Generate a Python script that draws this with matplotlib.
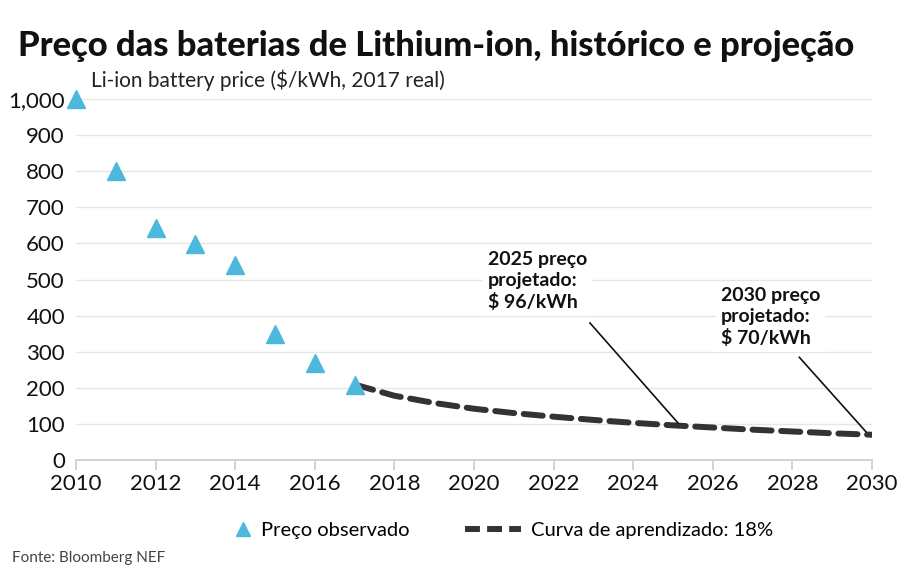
import matplotlib.pyplot as plt
from matplotlib.lines import Line2D

# Observed prices ($/kWh, 2017 real)
obs_years = [2010, 2011, 2012, 2013, 2014, 2015, 2016, 2017]
obs_price = [1000, 800, 642, 599, 540, 350, 270, 209]

# Learning curve projection (18%)
proj_years = [2017, 2018, 2019, 2020, 2021, 2022, 2023, 2024, 2025, 2026, 2027, 2028, 2029, 2030]
proj_price = [209, 178, 158, 142, 130, 120, 111, 103, 96, 90, 84, 79, 74, 70]

yticks = [0, 100, 200, 300, 400, 500, 600, 700, 800, 900, 1000]
ytick_labels = ['0', '100', '200', '300', '400', '500', '600', '700', '800', '900', '1,000']
xticks = list(range(2010, 2031, 2))

plt.rcParams['font.family'] = ['Lato', 'DejaVu Sans']

fig = plt.figure(figsize=(9.07, 5.75), dpi=100)
ax = fig.add_axes([0.0838, 0.2, 0.8776, 0.6278])

blue = '#4bb8dc'
dark = '#333333'

ax.plot(obs_years, obs_price, linestyle='None', marker='^', markersize=13,
        color=blue, clip_on=False, zorder=4)
ax.plot(proj_years, proj_price, linestyle=(0, (3.2, 1.6)), linewidth=4.3,
        color=dark, zorder=3, dash_capstyle='round')

ax.set_xlim(2010, 2030)
ax.set_ylim(0, 1000)
ax.set_yticks(yticks)
ax.set_yticklabels(ytick_labels)
ax.set_xticks(xticks)

for s in ['top', 'right', 'left']:
    ax.spines[s].set_visible(False)
ax.spines['bottom'].set_color('#cccccc')
ax.spines['bottom'].set_linewidth(1.2)
ax.tick_params(axis='y', length=0, labelsize=16, pad=8, labelcolor='#111111')
ax.tick_params(axis='x', direction='out', length=7, color='#cccccc', width=1.2,
               labelsize=16, pad=3, labelcolor='#111111')
ax.yaxis.grid(True, color='#e6e6e6', linewidth=1)
ax.set_axisbelow(True)

# annotation texts
box = dict(boxstyle='square,pad=0.25', fc='white', ec='none')
ax.text(2020.35, 580, '2025 preço\nprojetado:\n$ 96/kWh', fontsize=14,
        fontweight='bold', va='top', ha='left', color='#111111',
        linespacing=1.3, bbox=box, zorder=5)
ax.text(2026.2, 480, '2030 preço\nprojetado:\n$ 70/kWh', fontsize=14,
        fontweight='bold', va='top', ha='left', color='#111111',
        linespacing=1.3, bbox=box, zorder=5)

# leader lines
line = dict(arrowstyle='-', color='#111111', lw=1.2, shrinkA=0, shrinkB=0)
ax.annotate('', xy=(2025.13, 102), xytext=(2022.91, 380), arrowprops=line)
ax.annotate('', xy=(2029.85, 78), xytext=(2028.17, 285), arrowprops=line)

fig.text(0.02, 0.903, 'Preço das baterias de Lithium-ion, histórico e projeção',
         fontsize=24.8, fontweight='black', color='#111111', va='baseline')
fig.text(0.1, 0.848, 'Li-ion battery price ($/kWh, 2017 real)', fontsize=15,
         color='#222222', va='baseline')
fig.text(0.013, 0.022, 'Fonte: Bloomberg NEF', fontsize=11, color='#444444')

# legend: two parts so each handle sits where the reference has it
leg1 = fig.legend([Line2D([], [], linestyle='None', marker='^', markersize=10, color=blue)],
                  ['Preço observado'], loc='center left', bbox_to_anchor=(0.257, 0.077),
                  frameon=False, fontsize=14.5, handlelength=1.0, handletextpad=0.4,
                  borderpad=0, borderaxespad=0)
fig.legend([Line2D([], [], linestyle=(0, (2.5, 1.2)), linewidth=4.3, color=dark)],
           ['Curva de aprendizado: 18%'], loc='center left', bbox_to_anchor=(0.5127, 0.077),
           frameon=False, fontsize=14.5, handlelength=2.8, handletextpad=0.5,
           borderpad=0, borderaxespad=0)

fig.savefig('out.png', dpi=100)
